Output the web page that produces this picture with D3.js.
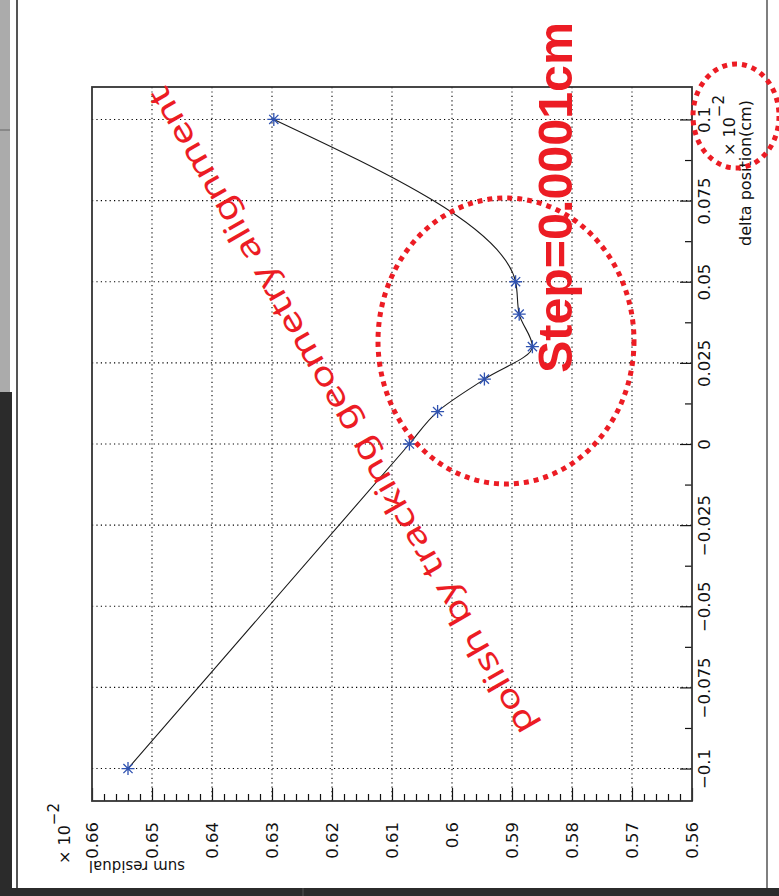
<!DOCTYPE html>
<html>
<head>
<meta charset="utf-8">
<script src="https://cdn.jsdelivr.net/npm/d3@7"></script>
<style>
  html, body { margin: 0; padding: 0; background: #ffffff; }
  svg { display: block; }
</style>
</head>
<body>
<script>
// ---------------- data ----------------
const deltaPosition = [-0.1, 0, 0.01, 0.02, 0.03, 0.04, 0.05, 0.1];            // x 10^-2 cm
const sumResidual   = [0.6540, 0.6071, 0.6024, 0.5946, 0.5866, 0.5888, 0.5894, 0.6297]; // x 10^-2

const deltaTicks      = [-0.1, -0.075, -0.05, -0.025, 0, 0.025, 0.05, 0.075, 0.1];
const deltaTickLabels = ["\u22120.1", "\u22120.075", "\u22120.05", "\u22120.025", "0", "0.025", "0.05", "0.075", "0.1"];
const deltaMinorTicks = [-0.0875, -0.0625, -0.0375, -0.0125, 0.0125, 0.0375, 0.0625, 0.0875];
const residTicks      = [0.66, 0.65, 0.64, 0.63, 0.62, 0.61, 0.60, 0.59, 0.58, 0.57, 0.56];
const residTickLabels = ["0.66", "0.65", "0.64", "0.63", "0.62", "0.61", "0.6", "0.59", "0.58", "0.57", "0.56"];
const residMinorTicks = [0.658, 0.656, 0.654, 0.652, 0.648, 0.646, 0.644, 0.642, 0.638, 0.636, 0.634, 0.632,
                         0.628, 0.626, 0.624, 0.622, 0.618, 0.616, 0.614, 0.612, 0.608, 0.606, 0.604, 0.602,
                         0.598, 0.596, 0.594, 0.592, 0.588, 0.586, 0.584, 0.582, 0.578, 0.576, 0.574, 0.572,
                         0.568, 0.566, 0.564, 0.562];

const xLabel = "delta position(cm)";
const yLabel = "sum residual";
const note1 = "Step=0.0001cm";
const note2 = "polish by tracking geometry alignment";

// ---------------- layout ----------------
const W = 779, H = 896;
const frame = { left: 92, right: 692, top: 87, bottom: 801 };
const RED = "#ec1c24";

const svg = d3.select("body").append("svg").attr("width", W).attr("height", H);

// window chrome around the figure
svg.append("rect").attr("x", 0).attr("y", 0).attr("width", W).attr("height", H).attr("fill", "#ffffff");
svg.append("rect").attr("x", 0).attr("y", 0).attr("width", 10).attr("height", 392).attr("fill", "#ababab");
svg.append("rect").attr("x", 0).attr("y", 392).attr("width", 12).attr("height", 504).attr("fill", "#2b2b2b");
svg.append("line").attr("x1", 0).attr("x2", 10).attr("y1", 130).attr("y2", 130).attr("stroke", "#666");
svg.append("rect").attr("x", 0).attr("y", 888).attr("width", W).attr("height", 8).attr("fill", "#2b2b2b");
svg.append("line").attr("x1", 303).attr("x2", 303).attr("y1", 888).attr("y2", 896).attr("stroke", "#555");
svg.append("line").attr("x1", 17).attr("x2", 17).attr("y1", 0).attr("y2", 888).attr("stroke", "#555").attr("stroke-width", 2);
svg.append("line").attr("x1", 767).attr("x2", 767).attr("y1", 0).attr("y2", 888).attr("stroke", "#555").attr("stroke-width", 1.5);

// scales: residual runs horizontally (reversed), delta position vertically
const x = d3.scaleLinear().domain([0.66, 0.56]).range([frame.left, frame.right]);
const y = d3.scaleLinear().domain([-0.11, 0.11]).range([frame.bottom, frame.top]);

const FONT = "'DejaVu Sans', sans-serif";

// grid
const grid = svg.append("g").attr("stroke", "#000").attr("stroke-width", 1.1).attr("stroke-dasharray", "1.2,3.2");
grid.selectAll("line.h").data(deltaTicks).join("line")
  .attr("x1", frame.left).attr("x2", frame.right)
  .attr("y1", d => y(d)).attr("y2", d => y(d));
grid.selectAll("line.v").data(residTicks.slice(1, -1)).join("line")
  .attr("y1", frame.top).attr("y2", frame.bottom)
  .attr("x1", d => x(d)).attr("x2", d => x(d));

// bottom axis (sum residual) with inward ticks
const bottomAxis = d3.axisBottom(x).tickValues(residTicks)
  .tickSizeInner(-13).tickSizeOuter(0)
  .tickFormat((d, i) => residTickLabels[i]);
const gB = svg.append("g").attr("transform", `translate(0,${frame.bottom})`).call(bottomAxis);
gB.select(".domain").remove();
gB.selectAll(".tick line").attr("stroke", "#111").attr("stroke-width", 1.2);
gB.selectAll(".tick text")
  .attr("transform", "rotate(-90)")
  .attr("x", -21).attr("y", 0).attr("dy", "0.36em")
  .attr("text-anchor", "end")
  .attr("font-family", FONT).attr("font-size", 16.5).attr("fill", "#111");

const gBm = svg.append("g").attr("transform", `translate(0,${frame.bottom})`)
  .call(d3.axisBottom(x).tickValues(residMinorTicks).tickSizeInner(-7).tickSizeOuter(0).tickFormat(""));
gBm.select(".domain").remove();
gBm.selectAll(".tick line").attr("stroke", "#111").attr("stroke-width", 1.2);

// right axis (delta position) with inward ticks
const rightAxis = d3.axisRight(y).tickValues(deltaTicks)
  .tickSizeInner(-12).tickSizeOuter(0)
  .tickFormat((d, i) => deltaTickLabels[i]);
const gR = svg.append("g").attr("transform", `translate(${frame.right},0)`).call(rightAxis);
gR.select(".domain").remove();
gR.selectAll(".tick line").attr("stroke", "#111").attr("stroke-width", 1.2);
gR.selectAll(".tick text")
  .attr("transform", "rotate(-90)")
  .attr("x", 0).attr("y", 18).attr("dy", 0)
  .attr("text-anchor", "middle")
  .attr("font-family", FONT).attr("font-size", 16.5).attr("fill", "#111");

const gRm = svg.append("g").attr("transform", `translate(${frame.right},0)`)
  .call(d3.axisRight(y).tickValues(deltaMinorTicks).tickSizeInner(-7).tickSizeOuter(0).tickFormat(""));
gRm.select(".domain").remove();
gRm.selectAll(".tick line").attr("stroke", "#111").attr("stroke-width", 1.2);

// frame
svg.append("rect")
  .attr("x", frame.left).attr("y", frame.top)
  .attr("width", frame.right - frame.left).attr("height", frame.bottom - frame.top)
  .attr("fill", "none").attr("stroke", "#333").attr("stroke-width", 1.8);

// data curve
const pts = deltaPosition.map((d, i) => ({ d: d, r: sumResidual[i] }));
const line = d3.line().x(p => x(p.r)).y(p => y(p.d)).curve(d3.curveMonotoneY);
svg.append("path").datum(pts).attr("d", line)
  .attr("fill", "none").attr("stroke", "#1a1a1a").attr("stroke-width", 1.1);

// star markers
const star = "M-6.5,0L6.5,0M0,-6.5L0,6.5M-4.6,-4.6L4.6,4.6M-4.6,4.6L4.6,-4.6";
svg.append("g").selectAll("path").data(pts).join("path")
  .attr("transform", p => `translate(${x(p.r)},${y(p.d)})`)
  .attr("d", star).attr("fill", "none").attr("stroke", "#2f52b0").attr("stroke-width", 1.3);

// axis labels and exponents (figure is rotated)
svg.append("text").text(xLabel)
  .attr("transform", "translate(751,173) rotate(-90)")
  .attr("text-anchor", "middle").attr("font-family", FONT).attr("font-size", 16).attr("fill", "#111");

const expR = svg.append("text").attr("transform", "translate(735,156) rotate(-90)")
  .attr("font-family", FONT).attr("font-size", 16).attr("fill", "#111");
expR.append("tspan").text("\u00d7 10");
expR.append("tspan").attr("dy", -11).attr("font-size", 15).text("\u22122");

svg.append("text").text(yLabel)
  .attr("transform", "translate(137,861) rotate(180)")
  .attr("text-anchor", "middle").attr("font-family", FONT).attr("font-size", 15).attr("fill", "#111");

const expL = svg.append("text").attr("transform", "translate(70,864) rotate(-90)")
  .attr("font-family", FONT).attr("font-size", 16).attr("fill", "#111");
expL.append("tspan").text("\u00d7 10");
expL.append("tspan").attr("dy", -11).attr("font-size", 15).text("\u22122");

// red annotations
const ann = svg.append("g");
ann.append("ellipse").attr("cx", 506).attr("cy", 341).attr("rx", 128).attr("ry", 143)
  .attr("fill", "none").attr("stroke", RED).attr("stroke-width", 5).attr("stroke-dasharray", "5,5");
ann.append("ellipse").attr("cx", 736).attr("cy", 116).attr("rx", 43).attr("ry", 52)
  .attr("fill", "none").attr("stroke", RED).attr("stroke-width", 5).attr("stroke-dasharray", "5,5");

ann.append("text").text(note1)
  .attr("transform", "translate(572,373) rotate(-90)")
  .attr("text-anchor", "start").attr("font-family", "'Liberation Sans', Arial, sans-serif")
  .attr("font-weight", "bold").attr("font-size", 49)
  .attr("textLength", 351).attr("lengthAdjust", "spacingAndGlyphs")
  .attr("fill", RED);

ann.append("text").text(note2)
  .attr("transform", "translate(340,412) rotate(-120)")
  .attr("text-anchor", "middle").attr("dominant-baseline", "central")
  .attr("font-family", "'Noto Sans', sans-serif")
  .attr("font-size", 32)
  .attr("textLength", 742).attr("lengthAdjust", "spacingAndGlyphs")
  .attr("fill", RED);
</script>
</body>
</html>
